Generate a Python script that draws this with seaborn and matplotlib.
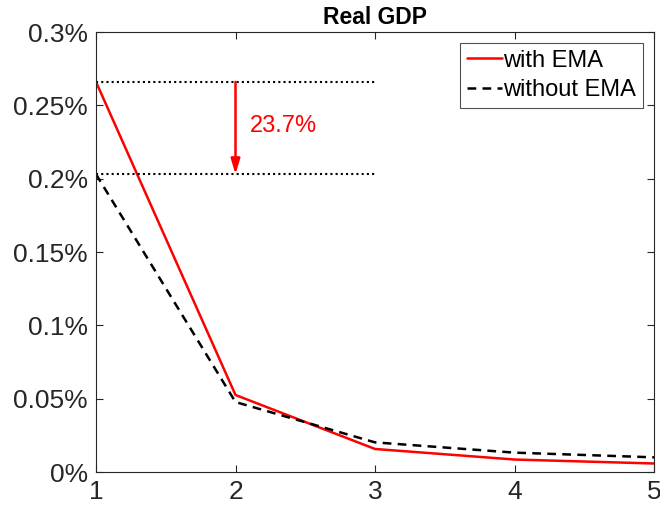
import numpy as np
import pandas as pd
import matplotlib
matplotlib.use("Agg")
import matplotlib.pyplot as plt
import seaborn as sns

horizon = [1, 2, 3, 4, 5]
with_ema = [0.266, 0.0525, 0.0157, 0.0085, 0.0058]
without_ema = [0.203, 0.0477, 0.0202, 0.0132, 0.0100]
yticks = [0, 0.05, 0.1, 0.15, 0.2, 0.25, 0.3]
ytick_labels = ["0%", "0.05%", "0.1%", "0.15%", "0.2%", "0.25%", "0.3%"]
drop_label = "23.7%"

sns.set_style("ticks")
plt.rcParams['font.family'] = ['Liberation Sans', 'DejaVu Sans']

df = pd.DataFrame({
    'h': horizon * 2,
    'v': with_ema + without_ema,
    'series': ['with EMA'] * 5 + ['without EMA'] * 5,
})

fig = plt.figure(figsize=(6.6, 5.12), dpi=100)
ax = fig.add_axes([96 / 660, 40 / 512, 558 / 660, 440 / 512])

sns.lineplot(data=df, x='h', y='v', hue='series', style='series',
             palette={'with EMA': 'red', 'without EMA': 'black'},
             dashes={'with EMA': '', 'without EMA': (3.5, 2.5)},
             linewidth=1.8, ax=ax)

# reference levels and the drop between them
ax.plot([horizon[0], horizon[2]], [with_ema[0]] * 2, color='black', linestyle=(0, (1, 1.5)), linewidth=1.5)
ax.plot([horizon[0], horizon[2]], [without_ema[0]] * 2, color='black', linestyle=(0, (1, 1.5)), linewidth=1.5)
ax.annotate('', xy=(2, without_ema[0]), xytext=(2, with_ema[0]),
            arrowprops=dict(arrowstyle='-|>,head_width=0.15,head_length=0.5', color='red', lw=1.8,
                            mutation_scale=18, shrinkA=0, shrinkB=0))
ax.text(2.1, (with_ema[0] + without_ema[0]) / 2 + 0.0015, drop_label, color='red', fontsize=17, va='center')

ax.set_xlim(1, 5)
ax.set_ylim(0, 0.3)
ax.set_xticks(horizon)
ax.set_yticks(yticks)
ax.set_yticklabels(ytick_labels)
ax.tick_params(direction='in', top=True, right=True, labelsize=19, length=5, pad=6,
               colors='#262626', labelcolor='#262626')
ax.set_xlabel('')
ax.set_ylabel('')
ax.set_title('Real GDP', fontsize=16.5, fontweight='bold', pad=6, color='black')
for s in ax.spines.values():
    s.set_color('#262626')
    s.set_linewidth(0.8)

leg = ax.legend(loc='upper right', fontsize=17, frameon=True, fancybox=False,
                edgecolor='#262626', handlelength=1.5, handletextpad=0.05,
                borderpad=0.3, labelspacing=0.3, borderaxespad=0.45)
leg.get_frame().set_linewidth(0.8)
for t in leg.get_texts():
    t.set_color('black')

fig.savefig('out.png', dpi=100)
